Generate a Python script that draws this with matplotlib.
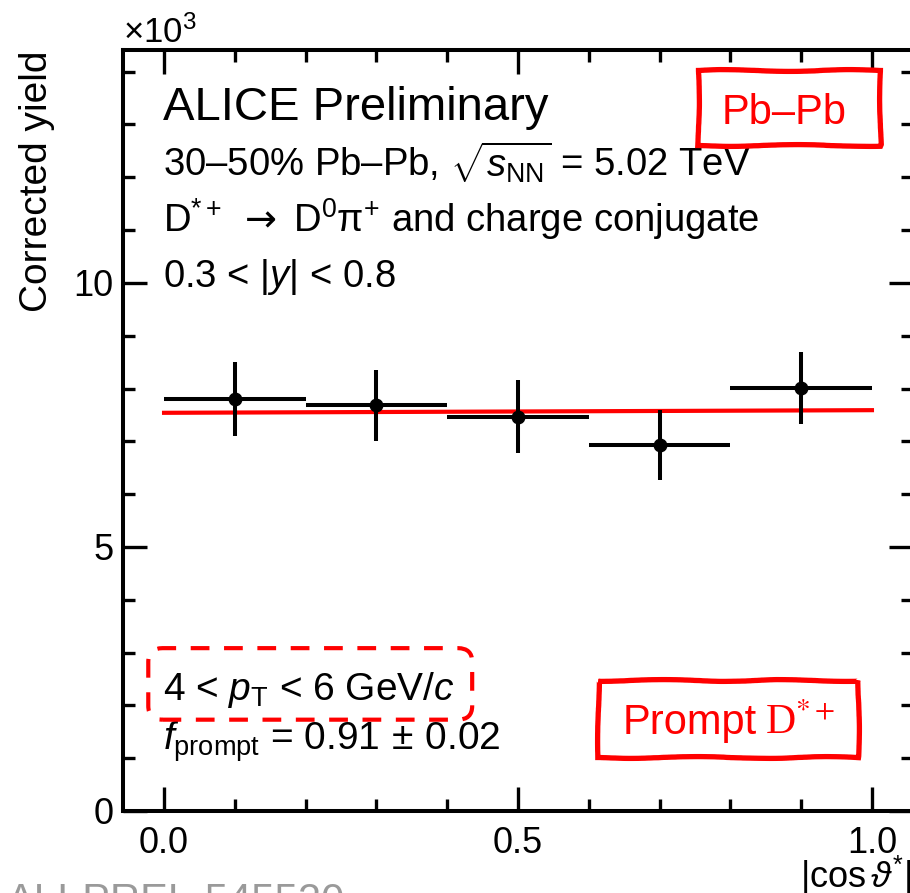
import numpy as np
import matplotlib
matplotlib.use("Agg")
import matplotlib.pyplot as plt
from matplotlib.patches import FancyBboxPatch
from matplotlib.ticker import MultipleLocator, FormatStrFormatter

plt.rcParams['font.family'] = ['Liberation Sans', 'DejaVu Sans']
plt.rcParams['mathtext.fontset'] = 'custom'
plt.rcParams['mathtext.rm'] = 'Liberation Sans'
plt.rcParams['mathtext.it'] = 'Liberation Sans:italic'
plt.rcParams['mathtext.bf'] = 'Liberation Sans:bold'
plt.rcParams['mathtext.sf'] = 'DejaVu Sans'
plt.rcParams['font.size'] = 28

# corrected D*+ yield vs |cos theta*| (units of 10^3)
cos_centers = [0.1, 0.3, 0.5, 0.7, 0.9]
cos_halfwidth = [0.1, 0.1, 0.1, 0.1, 0.1]
yield_vals = [7.80, 7.68, 7.47, 6.93, 8.01]
yield_errs = [0.70, 0.68, 0.70, 0.66, 0.69]

# constant fit
fit_x = [0.0, 1.0]
fit_y = [7.54, 7.59]

fig = plt.figure(figsize=(9.1, 8.93), dpi=100)
ax = fig.add_axes([123/910, 1 - 811/893, 790/910, 761/893])

ax.plot(fit_x, fit_y, color='#ff0000', lw=3.0, zorder=2)
ax.errorbar(cos_centers, yield_vals, xerr=cos_halfwidth, yerr=yield_errs,
            fmt='o', color='black', ms=9, elinewidth=2.9, capsize=0, zorder=3)

ax.set_xlim(-0.058, 1.058)
ax.set_ylim(0, 14.41)
ax.xaxis.set_major_locator(MultipleLocator(0.5))
ax.xaxis.set_minor_locator(MultipleLocator(0.1))
ax.xaxis.set_major_formatter(FormatStrFormatter('%.1f'))
ax.yaxis.set_major_locator(MultipleLocator(5))
ax.yaxis.set_minor_locator(MultipleLocator(1))
ax.tick_params(which='both', direction='in', top=True, right=True, width=2.4)
ax.tick_params(which='major', length=17, labelsize=26)
ax.tick_params(axis='x', which='major', pad=11)
ax.tick_params(axis='y', which='major', pad=7)
ax.tick_params(which='minor', length=8.5)
for sp in ax.spines.values():
    sp.set_linewidth(2.9)

ax.set_ylabel("Corrected yield", loc='top', fontsize=28)
ax.yaxis.set_label_coords(-0.086, 1.0)
ax.text(0.999, -0.101, r"|cos$\,\vartheta^{*}$|", transform=ax.transAxes,
        ha='right', va='baseline', fontsize=26)
ax.text(0.0, 1.009, r"$\times$10$^{3}$", transform=ax.transAxes,
        ha='left', va='baseline', fontsize=25)

# header lines
ax.text(0.0506, 0.908, "ALICE Preliminary", transform=ax.transAxes,
        fontsize=34, va='baseline')
header = [
    r"30–50% Pb–Pb, $\sqrt{s_{\rm NN}}$ = 5.02 TeV",
    r"D$^{*+}$ $\mathsf{\rightarrow}$ D$^{0}$π$^{+}$ and charge conjugate",
    r"0.3 < |$y$| < 0.8",
]
for txt, yb in zip(header, [0.833, 0.761, 0.689]):
    ax.text(0.0506, yb, txt, transform=ax.transAxes, fontsize=27.5, va='baseline')

ax.text(0.0506, 0.146, r"4 < $p_{\rm T}$ < 6 GeV/$c$", transform=ax.transAxes,
        fontsize=28, va='baseline')
ax.text(0.0506, 0.080, r"$f_{\rm prompt}$ = 0.91$\,\pm\,$0.02", transform=ax.transAxes,
        fontsize=28, va='baseline')

# red annotation boxes
def sketch_box(x0, y0, x1, y1):
    box = FancyBboxPatch((x0, y0), x1 - x0, y1 - y0, boxstyle='square,pad=0',
                         transform=ax.transAxes, facecolor='white',
                         edgecolor='#ff0000', lw=3.8, zorder=5, clip_on=False)
    box.set_sketch_params(scale=0.9, length=160, randomness=3)
    ax.add_patch(box)

sketch_box(0.728, 0.875, 0.958, 0.974)
ax.text(0.837, 0.903, "Pb–Pb", transform=ax.transAxes, color='#ff0000',
        fontsize=30, ha='center', va='baseline', zorder=6)

sketch_box(0.601, 0.071, 0.930, 0.172)
ax.text(0.632, 0.101, "Prompt", transform=ax.transAxes, color='#ff0000',
        fontsize=30, ha='left', va='baseline', zorder=6)
ax.text(0.813, 0.101, r"D$^{*+}$", transform=ax.transAxes, color='#ff0000',
        fontsize=30, ha='left', va='baseline', zorder=6, family='Liberation Serif',
        math_fontfamily='stix')

dashed = FancyBboxPatch((0.032, 0.120), 0.410, 0.094,
                        boxstyle='round,pad=0,rounding_size=0.018',
                        transform=ax.transAxes, facecolor='none', edgecolor='#ff0000',
                        lw=3.0, ls=(0, (4.5, 3.5)), zorder=5)
ax.add_patch(dashed)

fig.text(0.008, 1 - 913/893, "ALI-PREL-545520", color='#9a9a9a', fontsize=30,
         va='baseline', ha='left')

fig.savefig("out.png", dpi=100)
